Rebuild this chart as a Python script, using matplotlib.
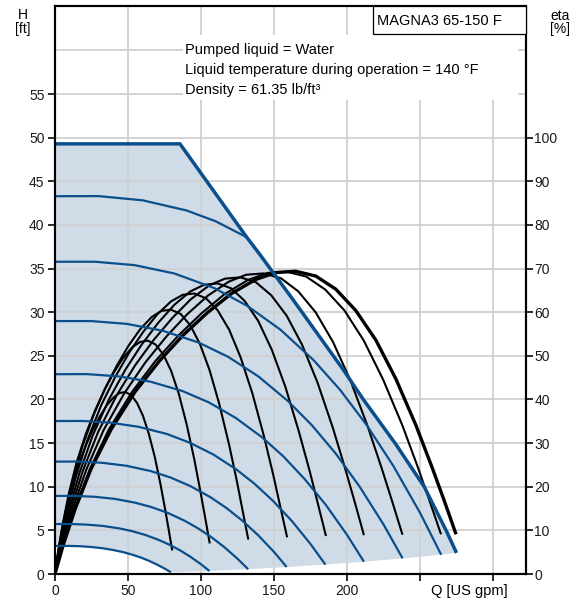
import matplotlib.pyplot as plt
from matplotlib.patches import Rectangle

plt.rcParams['font.family'] = ['Liberation Sans', 'DejaVu Sans']

# speed curves (Q in US gpm, H in ft), lowest speed first
speed_q = [
    [0.0, 8.2, 16.4, 24.5, 32.7, 39.5, 46.4, 53.2, 58.6, 64.1, 69.5, 75.0, 79.4],
    [0.0, 10.9, 21.8, 32.7, 43.6, 52.7, 61.8, 70.9, 78.2, 85.5, 92.7, 100.0, 105.8],
    [0.0, 13.6, 27.3, 40.9, 54.5, 65.9, 77.3, 88.6, 97.7, 106.8, 115.9, 125.0, 132.3],
    [0.0, 16.4, 32.7, 49.1, 65.5, 79.1, 92.7, 106.4, 117.3, 128.2, 139.1, 150.0, 158.7],
    [0.0, 19.1, 38.2, 57.3, 76.4, 92.3, 108.2, 124.1, 136.8, 149.5, 162.3, 175.0, 185.2],
    [0.0, 21.8, 43.6, 65.5, 87.3, 105.5, 123.6, 141.8, 156.4, 170.9, 185.5, 200.0, 211.6],
    [0.0, 24.5, 49.1, 73.6, 98.2, 118.6, 139.1, 159.5, 175.9, 192.3, 208.6, 225.0, 238.1],
    [0.0, 27.3, 54.5, 81.8, 109.1, 131.8, 154.5, 177.3, 195.5, 213.6, 231.8, 250.0, 264.5],
    [0.0, 30.0, 60.0, 90.0, 110.0, 131.3],
]
speed_h = [
    [3.22, 3.22, 3.19, 3.10, 2.95, 2.76, 2.52, 2.20, 1.90, 1.53, 1.11, 0.63, 0.20],
    [5.73, 5.73, 5.66, 5.51, 5.24, 4.92, 4.48, 3.92, 3.37, 2.73, 1.98, 1.12, 0.35],
    [8.95, 8.95, 8.85, 8.61, 8.19, 7.68, 7.00, 6.12, 5.26, 4.26, 3.09, 1.75, 0.55],
    [12.88, 12.89, 12.74, 12.40, 11.80, 11.06, 10.08, 8.81, 7.58, 6.13, 4.45, 2.53, 0.80],
    [17.53, 17.54, 17.34, 16.87, 16.06, 15.05, 13.72, 12.00, 10.32, 8.35, 6.06, 3.44, 1.08],
    [22.90, 22.91, 22.65, 22.04, 20.97, 19.66, 17.91, 15.67, 13.48, 10.90, 7.92, 4.49, 1.41],
    [28.99, 28.99, 28.67, 27.89, 26.54, 24.89, 22.67, 19.83, 17.06, 13.80, 10.02, 5.68, 1.79],
    [35.79, 35.79, 35.40, 34.44, 32.77, 30.72, 27.99, 24.48, 21.06, 17.04, 12.37, 7.02, 2.21],
    [43.30, 43.31, 42.83, 41.67, 40.43, 38.6],
]

# max curve
max_q = [0.0, 85.6, 131.3, 140.4, 163.2, 197.5, 211.2, 232.9, 252.9, 268.3, 275.0]
max_h = [49.3, 49.3, 38.6, 36.6, 31.4, 23.4, 20.0, 15.0, 10.0, 4.85, 2.42]

# efficiency curves (eta in %), last one belongs to the max curve
eta_q = [
    [0.0, 1.6, 4.0, 7.2, 11.2, 16.1, 20.9, 25.7, 30.5, 35.3, 40.2, 44.2, 48.2, 52.2, 56.2, 60.2, 64.2, 68.3, 72.3, 75.5, 77.9, 80.3],
    [0.0, 2.1, 5.3, 9.5, 14.8, 21.2, 27.6, 33.9, 40.3, 46.6, 53.0, 58.3, 63.6, 68.9, 74.2, 79.5, 84.8, 90.1, 95.4, 99.6, 102.8, 106.0],
    [0.0, 2.6, 6.6, 11.9, 18.5, 26.5, 34.4, 42.4, 50.3, 58.3, 66.2, 72.8, 79.4, 86.1, 92.7, 99.3, 105.9, 112.5, 119.2, 124.5, 128.4, 132.4],
    [0.0, 3.2, 8.0, 14.3, 22.3, 31.8, 41.3, 50.9, 60.4, 70.0, 79.5, 87.5, 95.4, 103.4, 111.3, 119.3, 127.2, 135.2, 143.1, 149.5, 154.2, 159.0],
    [0.0, 3.7, 9.3, 16.7, 26.0, 37.1, 48.3, 59.4, 70.5, 81.7, 92.8, 102.1, 111.4, 120.6, 129.9, 139.2, 148.5, 157.8, 167.0, 174.5, 180.0, 185.6],
    [0.0, 4.2, 10.6, 19.0, 29.6, 42.3, 55.0, 67.7, 80.4, 93.1, 105.8, 116.4, 127.0, 137.5, 148.1, 158.7, 169.3, 179.9, 190.4, 198.9, 205.3, 211.6],
    [0.0, 4.8, 11.9, 21.4, 33.3, 47.6, 61.9, 76.2, 90.4, 104.7, 119.0, 130.9, 142.8, 154.7, 166.6, 178.5, 190.4, 202.3, 214.2, 223.7, 230.9, 238.0],
    [0.0, 5.3, 13.2, 23.8, 37.0, 52.9, 68.7, 84.6, 100.5, 116.3, 132.2, 145.4, 158.6, 171.9, 185.1, 198.3, 211.5, 224.7, 238.0, 248.5, 256.5, 264.4],
    [0.0, 5.5, 13.7, 24.7, 38.5, 54.9, 71.4, 87.9, 104.4, 120.9, 137.4, 151.1, 164.8, 178.6, 192.3, 206.0, 219.8, 233.5, 247.2, 258.2, 266.5, 274.7],
]
eta_v = [
    [0.0, 3.9, 8.9, 14.4, 19.9, 25.1, 29.3, 32.9, 36.0, 38.6, 40.5, 41.5, 41.7, 41.0, 39.2, 36.3, 32.2, 26.9, 20.5, 14.7, 10.1, 5.4],
    [0.0, 5.0, 11.4, 18.5, 25.6, 32.2, 37.6, 42.2, 46.2, 49.5, 52.0, 53.2, 53.5, 52.6, 50.3, 46.6, 41.3, 34.4, 26.3, 18.9, 13.0, 7.0],
    [0.0, 5.6, 12.9, 21.0, 29.0, 36.5, 42.6, 47.8, 52.3, 56.1, 58.9, 60.3, 60.6, 59.6, 57.0, 52.7, 46.7, 39.0, 29.7, 21.4, 14.7, 7.9],
    [0.0, 6.0, 13.7, 22.3, 30.8, 38.8, 45.2, 50.8, 55.5, 59.5, 62.5, 64.0, 64.3, 63.2, 60.5, 56.0, 49.6, 41.4, 31.6, 22.7, 15.6, 8.4],
    [0.0, 6.2, 14.2, 23.1, 31.9, 40.1, 46.9, 52.6, 57.5, 61.7, 64.8, 66.3, 66.6, 65.5, 62.6, 58.0, 51.4, 42.9, 32.7, 23.5, 16.2, 8.7],
    [0.0, 6.3, 14.5, 23.6, 32.6, 41.0, 47.9, 53.7, 58.7, 63.0, 66.2, 67.7, 68.0, 66.9, 63.9, 59.2, 52.5, 43.8, 33.4, 24.0, 16.5, 8.9],
    [0.0, 6.4, 14.7, 23.9, 33.0, 41.5, 48.5, 54.4, 59.5, 63.8, 67.0, 68.6, 68.9, 67.8, 64.8, 60.0, 53.2, 44.4, 33.8, 24.3, 16.7, 9.0],
    [0.0, 6.5, 14.8, 24.0, 33.2, 41.8, 48.8, 54.7, 59.8, 64.2, 67.4, 69.0, 69.3, 68.2, 65.2, 60.4, 53.5, 44.6, 34.0, 24.5, 16.8, 9.1],
    [0.0, 6.5, 14.8, 24.1, 33.2, 41.8, 48.8, 54.8, 59.9, 64.3, 67.5, 69.1, 69.4, 68.3, 65.3, 60.4, 53.6, 44.7, 34.1, 24.5, 16.9, 9.1],
]

x_ticks = [0, 50, 100, 150, 200, 250, 300]
x_labels = ['0', '50', '100', '150', '200', '', '']
h_ticks = [0, 5, 10, 15, 20, 25, 30, 35, 40, 45, 50, 55]
eta_ticks = [0, 10, 20, 30, 40, 50, 60, 70, 80, 90, 100]

info_lines = ['Pumped liquid = Water',
              'Liquid temperature during operation = 140 \u00b0F',
              'Density = 61.35 lb/ft\u00b3']
title = 'MAGNA3 65-150 F'

blue = '#0a4e8b'
W, H = 587, 601

fig = plt.figure(figsize=(W / 100, H / 100), dpi=100)
ax = fig.add_axes([55 / W, 27 / H, 471 / W, 568 / H])
ax2 = ax.twinx()

# shaded operating area: max curve on top, end points of the speed curves below
ends_q = [q[-1] for q in speed_q[:8]] + [max_q[-1]]
ends_h = [h[-1] for h in speed_h[:8]] + [max_h[-1]]
poly_q = list(max_q) + ends_q[::-1] + speed_q[0][::-1]
poly_h = list(max_h) + ends_h[::-1] + speed_h[0][::-1]
ax.fill(poly_q, poly_h, color='#cfdbe7', lw=0, zorder=0.3)

# efficiency lines go on ax but use the eta scale of ax2, so the blue lines can sit on top
for q, e in zip(eta_q[:-1], eta_v[:-1]):
    ax.plot(q, e, color='black', lw=1.5, solid_capstyle='butt', transform=ax2.transData, zorder=2)
ax.plot(eta_q[-1], eta_v[-1], color='black', lw=2.4, solid_capstyle='butt', transform=ax2.transData, zorder=2.1)

for q, h in zip(speed_q, speed_h):
    ax.plot(q, h, color=blue, lw=1.6, solid_capstyle='butt', zorder=3)
ax.plot(max_q, max_h, color=blue, lw=2.5, solid_capstyle='butt', zorder=4)

ax.set_xlim(0, 322.6)
ax.set_ylim(0, 65.1)
ax2.set_ylim(0, 130.2)

ax.set_xticks(x_ticks)
ax.set_xticklabels(x_labels)
ax.set_yticks(h_ticks)
ax.set_yticks([60], minor=True)
ax2.set_yticks(eta_ticks)

ax.set_axisbelow(True)
ax.grid(True, which='both', color='#d0d0d0', lw=1.3)
ax.tick_params(which='minor', length=0)
ax.tick_params(which='major', direction='out', length=5, width=1.3, labelsize=10, pad=2.5, colors='#1a1a1a')
ax2.tick_params(direction='out', length=5, width=1.3, labelsize=10, pad=1, colors='#1a1a1a')
for a in (ax, ax2):
    for s in a.spines.values():
        s.set_linewidth(1.5)
        s.set_color('black')

# white area behind the liquid info
fig.patches.append(Rectangle((183 / W, 1 - 100 / H), 335 / W, 65 / H, transform=fig.transFigure,
                             facecolor='white', edgecolor='none', zorder=1))
for i, line in enumerate(info_lines):
    fig.text(185 / W, 1 - (54 + 20 * i) / H, line, fontsize=10.5, va='baseline', ha='left', zorder=2)

# pump name box
fig.patches.append(Rectangle((373 / W, 1 - 33.5 / H), 153 / W, 27.5 / H, transform=fig.transFigure,
                             facecolor='white', edgecolor='black', lw=0.9, zorder=1))
fig.text(377 / W, 1 - 25 / H, title, fontsize=10.5, va='baseline', ha='left', zorder=2)

fig.text(22.5 / W, 1 - 19 / H, 'H', fontsize=10, ha='center', va='baseline')
fig.text(22.5 / W, 1 - 33.5 / H, '[ft]', fontsize=10, ha='center', va='baseline')
fig.text(560 / W, 1 - 20.5 / H, 'eta', fontsize=10, ha='center', va='baseline')
fig.text(560 / W, 1 - 33.5 / H, '[%]', fontsize=10, ha='center', va='baseline')
fig.text(431 / W, 1 - 595 / H, 'Q [US gpm]', fontsize=10.5, ha='left', va='baseline')

fig.savefig('out.png', dpi=100)
